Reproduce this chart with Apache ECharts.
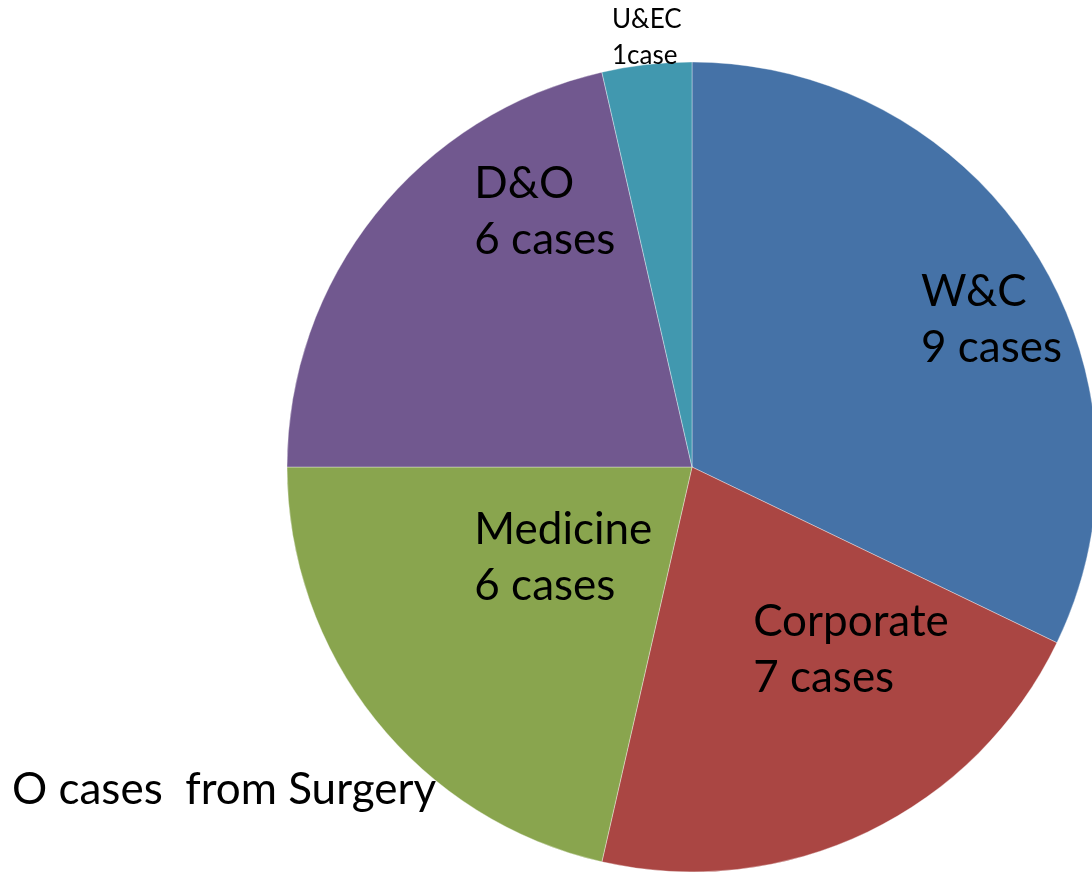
<!DOCTYPE html>
<html>
<head>
<meta charset="utf-8">
<script src="https://cdn.jsdelivr.net/npm/echarts@6/dist/echarts.min.js"></script>
<style>
  html, body { margin: 0; padding: 0; background: #fff; }
  #chart { width: 1092px; height: 872px; }
</style>
</head>
<body>
<div id="chart"></div>
<script>
// Slice sizes as drawn in the picture (angles)
const categories = ['W&C', 'Corporate', 'Medicine', 'D&O', 'U&EC'];
const sliceValues = [9, 6, 6, 6, 1];
const caseLabels = ['9 cases', '7 cases', '6 cases', '6 cases', '1case'];
const noteText = 'O cases  from Surgery';

const colors = ['#4572A7', '#AA4643', '#89A54E', '#71588F', '#4198AF'];
// label shifts from the default inside position (style only)
const labelShift = [[55, -38], [-28, -2], [-57, -37], [-57, -127], [-57, -225]];

const chart = echarts.init(document.getElementById('chart'), null, { renderer: 'canvas' });

const data = categories.map((c, i) => ({
  name: c,
  value: sliceValues[i],
  itemStyle: { color: colors[i] },
  label: i === 4 ? { fontSize: 26, lineHeight: 36 } : {}
}));

chart.setOption({
  animation: false,
  backgroundColor: '#ffffff',
  series: [{
    type: 'pie',
    center: [692, 467],
    radius: 405,
    startAngle: 90,
    clockwise: true,
    data: data,
    itemStyle: { borderColor: 'rgba(255,255,255,0.45)', borderWidth: 0.8 },
    emphasis: { disabled: true },
    label: {
      show: true,
      position: 'inside',
      color: '#000',
      fontFamily: 'Lato',
      fontSize: 44,
      lineHeight: 56,
      formatter: p => p.name + '\n' + caseLabels[p.dataIndex]
    },
    labelLine: { show: false },
    labelLayout: p => ({
      dx: labelShift[p.dataIndex][0],
      dy: labelShift[p.dataIndex][1],
      align: 'left'
    })
  }],
  graphic: [{
    type: 'text',
    left: 12,
    top: 768,
    style: {
      text: noteText,
      fontFamily: 'Lato',
      fontSize: 44,
      fill: '#000'
    }
  }]
});
</script>
</body>
</html>
